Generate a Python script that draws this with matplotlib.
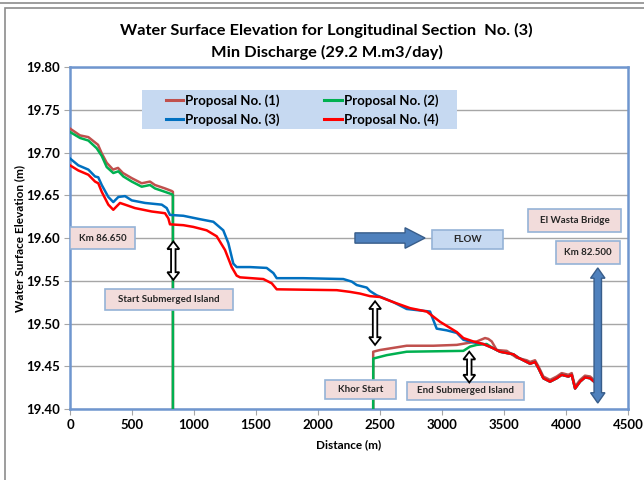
import numpy as np
import matplotlib.pyplot as plt
from matplotlib.patches import Rectangle, Polygon
from matplotlib.lines import Line2D

plt.rcParams['font.family'] = ['Lato', 'DejaVu Sans']

# ------------------------------------------------------------
# Data (distance m, water level m)
# ------------------------------------------------------------
tail_x = [3414, 3468, 3575, 3615, 3683, 3710, 3750, 3777, 3817, 3871,
          3925, 3965, 4019, 4046, 4073, 4113, 4153, 4194, 4226]
tail_y = [19.471, 19.467, 19.464, 19.460, 19.455, 19.453, 19.455, 19.448, 19.436, 19.432,
          19.436, 19.440, 19.438, 19.440, 19.424, 19.432, 19.437, 19.436, 19.432]

p1_x = [0, 81, 148, 226, 256, 296, 347, 387, 427, 498, 578, 645, 685, 766, 820, 830, 830,
        np.nan,
        2445, 2445, 2500, 2715, 2930, 3119, 3199, 3280, 3347, 3373, 3401, 3441, 3522, 3602,
        3683, 3710, 3750, 3777, 3817, 3871, 3925, 3965, 4019, 4046, 4073, 4113, 4153, 4194, 4226]
p1_y = [19.728, 19.720, 19.718, 19.709, 19.699, 19.688, 19.680, 19.682, 19.676, 19.670,
        19.664, 19.666, 19.662, 19.658, 19.655, 19.654, 19.400,
        np.nan,
        19.400, 19.467, 19.469, 19.474, 19.474, 19.475, 19.477, 19.479, 19.483, 19.482, 19.479,
        19.469, 19.468, 19.460,
        19.457, 19.455, 19.457, 19.450, 19.438, 19.434, 19.438, 19.442, 19.440, 19.442,
        19.426, 19.434, 19.439, 19.438, 19.434]

p2_x = [0, 81, 148, 215, 256, 296, 349, 390, 430, 498, 578, 645, 685, 766, 825, 830, 830,
        np.nan,
        2445, 2446, 2554, 2715, 3172, 3226, 3280, 3360] + tail_x
p2_y = [19.724, 19.717, 19.714, 19.705, 19.696, 19.683, 19.676, 19.678, 19.672, 19.666,
        19.660, 19.662, 19.658, 19.654, 19.651, 19.650, 19.400,
        np.nan,
        19.400, 19.459, 19.463, 19.467, 19.468, 19.473, 19.475, 19.476] + tail_y

p3_x = [0, 67, 148, 202, 228, 256, 309, 349, 390, 444, 498, 605, 740, 780, 806, 914,
        1048, 1156, 1236, 1277, 1317, 1344, 1452, 1586, 1640, 1667, 1881, 2204, 2272,
        2312, 2393, 2419, 2473, 2607, 2715, 2903, 2957, 3038, 3119, 3172, 3252, 3333] + tail_x
p3_y = [19.693, 19.685, 19.680, 19.672, 19.671, 19.662, 19.648, 19.642, 19.648, 19.649,
        19.644, 19.641, 19.639, 19.635, 19.627, 19.626, 19.622, 19.619, 19.609, 19.594,
        19.570, 19.566, 19.566, 19.565, 19.559, 19.553, 19.553, 19.552, 19.549, 19.545,
        19.542, 19.538, 19.533, 19.525, 19.517, 19.514, 19.494, 19.492, 19.489, 19.481,
        19.478, 19.476] + tail_y

p4_x = [0, 67, 148, 202, 228, 256, 309, 349, 403, 444, 524, 659, 766, 793, 806, 914,
        994, 1102, 1183, 1250, 1304, 1344, 1371, 1559, 1627, 1667, 2151, 2258, 2339,
        2419, 2500, 2607, 2742, 2877, 2984, 3119, 3172, 3252, 3333] + tail_x
p4_y = [19.685, 19.679, 19.674, 19.666, 19.664, 19.654, 19.639, 19.633, 19.641, 19.639,
        19.635, 19.631, 19.629, 19.623, 19.616, 19.615, 19.613, 19.609, 19.602, 19.586,
        19.566, 19.556, 19.554, 19.552, 19.547, 19.540, 19.539, 19.537, 19.535, 19.532,
        19.531, 19.525, 19.518, 19.514, 19.502, 19.490, 19.483, 19.479, 19.476] + tail_y

series_labels = ['Proposal No. (1)', 'Proposal No. (2)', 'Proposal No. (3)', 'Proposal No. (4)']
series_colors = ['#C0504D', '#00B050', '#0070C0', '#FF0000']

# annotation boxes: text, x0, x1, y0, y1, fill
boxes = [
    ('Km 86.650', 0, 524, 19.587, 19.613, '#F2DCDB'),
    ('Start Submerged Island', 282, 1315, 19.516, 19.540, '#F2DCDB'),
    ('FLOW', 2917, 3494, 19.587, 19.609, '#C6D9F1'),
    ('El Wasta Bridge', 3696, 4441, 19.607, 19.634, '#F2DCDB'),
    ('Km 82.500', 3919, 4435, 19.570, 19.597, '#F2DCDB'),
    ('Khor Start', 2056, 2629, 19.412, 19.434, '#F2DCDB'),
    ('End Submerged Island', 2720, 3661, 19.411, 19.432, '#F2DCDB'),
]

# hollow black double arrows: x, y_bottom, y_top
black_arrows = [(833, 19.551, 19.596), (2460, 19.475, 19.526), (3220, 19.431, 19.467)]


def double_arrow(ax, x, y0, y1, shaft, head, head_len, fc, ec, lw):
    pts = [(x, y1), (x + head, y1 - head_len), (x + shaft, y1 - head_len),
           (x + shaft, y0 + head_len), (x + head, y0 + head_len), (x, y0),
           (x - head, y0 + head_len), (x - shaft, y0 + head_len),
           (x - shaft, y1 - head_len), (x - head, y1 - head_len)]
    ax.add_patch(Polygon(pts, closed=True, facecolor=fc, edgecolor=ec, lw=lw, zorder=6))


# ------------------------------------------------------------
# Plot
# ------------------------------------------------------------
fig = plt.figure(figsize=(6.44, 4.8), dpi=100)
ax = fig.add_axes([0.1087, 0.1479, 0.8665, 0.7125])

# outer frame of the picture
fig.add_artist(Rectangle((5 / 644, -0.01), 1.0, (480 - 8) / 480 + 0.01, transform=fig.transFigure,
                         fill=False, edgecolor='#8C8C8C', lw=1.2))
fig.add_artist(Line2D([0, 1], [1 - 3 / 480, 1 - 3 / 480], transform=fig.transFigure,
                      color='#8C8C8C', lw=1.2))

xs = [p1_x, p2_x, p3_x, p4_x]
ys = [p1_y, p2_y, p3_y, p4_y]
handles = []
for x, y, lab, col in zip(xs, ys, series_labels, series_colors):
    h, = ax.plot(x, y, color=col, lw=1.8, label=lab, zorder=3)
    handles.append(h)

ax.set_xlim(0, 4500)
ax.set_ylim(19.40, 19.80)
ax.set_xticks(np.arange(0, 4501, 500))
ax.set_yticks(np.arange(19.40, 19.801, 0.05))
ax.yaxis.set_major_formatter(plt.FormatStrFormatter('%.2f'))
ax.yaxis.grid(True, color='#A6A6A6', lw=1)
ax.set_axisbelow(True)
for s in ax.spines.values():
    s.set_color('#6F96CF')
    s.set_linewidth(1.8)
ax.tick_params(axis='both', length=4, color='#A6A6A6', labelsize=9.5, pad=3)
for lab in ax.get_xticklabels() + ax.get_yticklabels():
    lab.set_fontweight('bold')

ax.set_xlabel('Distance (m)', fontweight='bold', fontsize=8.5, labelpad=6)
ax.set_ylabel('Water Surface Elevation (m)', fontweight='bold', fontsize=8.5, labelpad=1)
fig.text(0.507, 1 - 30 / 480, 'Water Surface Elevation for Longitudinal Section  No. (3)',
         ha='center', va='center', fontsize=11.8, fontweight='bold')
fig.text(0.507, 1 - 52 / 480, 'Min Discharge (29.2 M.m3/day)',
         ha='center', va='center', fontsize=11.8, fontweight='bold')

# annotation boxes
for text, x0, x1, y0, y1, fc in boxes:
    ax.add_patch(Rectangle((x0, y0), x1 - x0, y1 - y0, facecolor=fc, edgecolor='#95B3D7',
                           lw=1.2, zorder=5))
    ax.text((x0 + x1) / 2, (y0 + y1) / 2, text, ha='center', va='center', fontsize=7,
            fontweight='bold', color='#262626', zorder=6)

for x, y0, y1 in black_arrows:
    double_arrow(ax, x, y0, y1, 18, 48, 0.009, 'white', 'black', 1.3)

# bridge arrow
double_arrow(ax, 4256, 19.407, 19.565, 30, 58, 0.012, '#4F81BD', '#385D8A', 1.0)

# flow arrow
flow = [(2298, 19.594), (2702, 19.594), (2702, 19.588), (2863, 19.600),
        (2702, 19.612), (2702, 19.606), (2298, 19.606)]
ax.add_patch(Polygon(flow, closed=True, facecolor='#4F81BD', edgecolor='#385D8A', lw=1.0, zorder=6))

# legend: light-blue panel with frameless legend on top
ax.add_patch(Rectangle((0.1285, 0.818), 0.5645, 0.115, transform=ax.transAxes,
                       facecolor='#C6D9F1', edgecolor='none', zorder=7))
leg = ax.legend([handles[0], handles[2], handles[1], handles[3]],
                [series_labels[0], series_labels[2], series_labels[1], series_labels[3]],
                ncol=2, loc='center left', bbox_to_anchor=(0.172, 0.874),
                prop={'weight': 'bold', 'size': 9.5}, frameon=False,
                handlelength=1.3, handletextpad=0.15, labelspacing=0.45, columnspacing=3.4,
                borderpad=0, borderaxespad=0)
leg.set_zorder(8)
for h in leg.legend_handles:
    h.set_linewidth(2.2)

plt.savefig('out.png', dpi=100)
